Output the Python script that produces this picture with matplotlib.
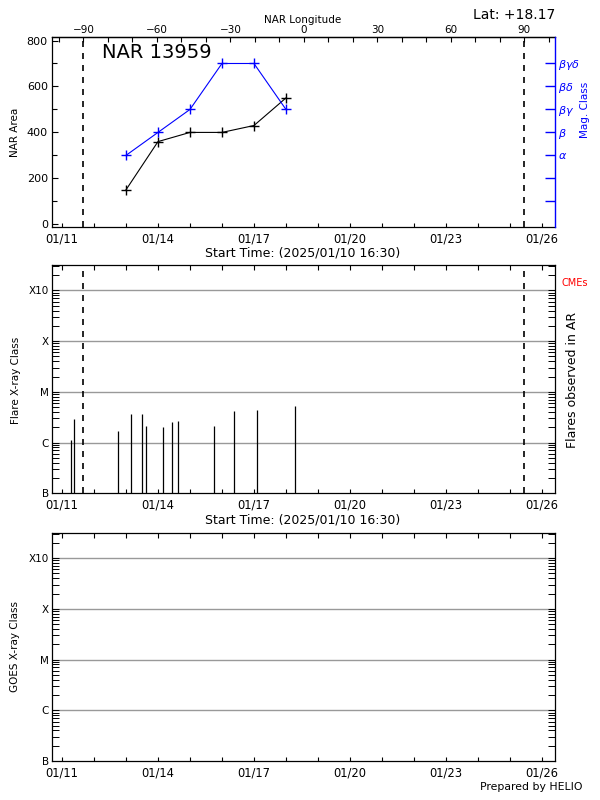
import matplotlib
matplotlib.use('Agg')
import matplotlib.pyplot as plt
import matplotlib.dates as mdates
from matplotlib.ticker import MultipleLocator, FixedLocator, LogLocator, NullFormatter
from datetime import datetime

T_START = datetime(2025, 1, 10, 16, 30)
T_END = datetime(2025, 1, 26, 9, 50)
LIMB_EAST = datetime(2025, 1, 11, 16, 0)   # longitude -90
LIMB_WEST = datetime(2025, 1, 25, 10, 50)  # longitude +90

# NAR area / magnetic class, one value per day
nar_days = ['2025-01-13', '2025-01-14', '2025-01-15', '2025-01-16', '2025-01-17', '2025-01-18']
nar_area = [150, 360, 400, 400, 430, 550]
nar_mag = ['a', 'b', 'bg', 'bgd', 'bgd', 'bg']

mag_keys = ['', '-', 'a', 'b', 'bg', 'bd', 'bgd']
mag_labels = ['', '', r'$\alpha$', r'$\beta$', r'$\beta\gamma$', r'$\beta\delta$', r'$\beta\gamma\delta$']

lon_ticks = [-90, -60, -30, 0, 30, 60, 90]

# flares observed in AR
flare_times = ['2025-01-11 06:30', '2025-01-11 08:40', '2025-01-12 17:50', '2025-01-13 03:30',
               '2025-01-13 11:50', '2025-01-13 14:50', '2025-01-14 03:30', '2025-01-14 10:20',
               '2025-01-14 14:50', '2025-01-15 17:45', '2025-01-16 08:55', '2025-01-17 02:00',
               '2025-01-18 06:45']
flare_class = ['C1.1', 'C2.9', 'C1.7', 'C3.6', 'C3.6', 'C2.1', 'C2.0', 'C2.6',
               'C2.7', 'C2.1', 'C4.1', 'C4.3', 'C5.2']

goes_levels = [1e-7, 1e-6, 1e-5, 1e-4, 1e-3]
goes_labels = ['B', 'C', 'M', 'X', 'X10']
CLASS_BASE = {'A': 1e-8, 'B': 1e-7, 'C': 1e-6, 'M': 1e-5, 'X': 1e-4}


def class_to_flux(s):
    return CLASS_BASE[s[0]] * float(s[1:])


def to_dt(s):
    fmt = '%Y-%m-%d %H:%M' if ' ' in s else '%Y-%m-%d'
    return datetime.strptime(s, fmt)


tE = mdates.date2num(LIMB_EAST)
tW = mdates.date2num(LIMB_WEST)
k = 180.0 / (tW - tE)


def t2lon(t):
    return -90 + (t - tE) * k


def lon2t(lon):
    return tE + (lon + 90) / k


plt.rcParams['font.family'] = 'DejaVu Sans'
fig = plt.figure(figsize=(6, 8), dpi=100)

W, H = 600.0, 800.0
L, R = 52 / W, 555 / W
PX = 0.72  # points per pixel at 100 dpi
DASH = (0, (3.6, 3.6))


def make_ax(top, bottom):
    return fig.add_axes([L, 1 - bottom / H, R - L, (bottom - top) / H])


def time_axis(ax, top=True):
    ax.set_xlim(T_START, T_END)
    ax.xaxis.set_major_locator(mdates.DayLocator(bymonthday=[11, 14, 17, 20, 23, 26]))
    ax.xaxis.set_minor_locator(mdates.DayLocator())
    ax.xaxis.set_major_formatter(mdates.DateFormatter('%m/%d'))
    ax.tick_params(axis='x', which='both', direction='in', length=4.5 * PX, width=0.8,
                   top=top, bottom=True, labelsize=8.3, pad=4)
    for sp in ax.spines.values():
        sp.set_linewidth(0.9)


def goes_axis(ax):
    ax.set_yscale('log')
    ax.set_ylim(1e-7, 10 ** -2.5)
    ax.yaxis.set_major_locator(FixedLocator(goes_levels))
    ax.set_yticklabels(goes_labels)
    ax.yaxis.set_minor_locator(LogLocator(base=10, subs=range(2, 10)))
    ax.yaxis.set_minor_formatter(NullFormatter())
    ax.tick_params(axis='y', which='both', direction='in', length=7 * PX, width=0.7,
                   left=True, right=True, labelsize=7.5, pad=2)
    for lv in goes_levels[1:]:
        ax.axhline(lv, color='#999999', lw=1.0, zorder=1)


# ---- panel 1: NAR area and magnetic class
ax1 = make_ax(37.3, 227.3)
time_axis(ax1, top=False)
ax1.set_ylim(-13, 814)
ax1.yaxis.set_major_locator(MultipleLocator(200))
ax1.yaxis.set_minor_locator(MultipleLocator(100))
ax1.tick_params(axis='y', which='major', direction='in', length=6 * PX, width=0.8,
                right=False, labelsize=8, pad=3)
ax1.tick_params(axis='y', which='minor', direction='in', length=4.5 * PX, width=0.8, right=False)
ax1.spines['right'].set_visible(False)

nar_t = [to_dt(d) for d in nar_days]
ax1.plot(nar_t, nar_area, color='k', lw=0.8, marker='+', ms=7, mew=1.0)
for d in [LIMB_EAST, LIMB_WEST]:
    ax1.axvline(d, color='k', lw=1.2, ls=DASH)
ax1.text(102 / W, 1 - 52 / H, 'NAR 13959', transform=fig.transFigure,
         fontsize=14, va='center', ha='left')

ax1r = ax1.twinx()
ax1r.set_ylim(-0.13, 8.14)
ax1r.set_yticks(range(1, len(mag_keys) + 1))
ax1r.set_yticklabels(mag_labels)
ax1r.tick_params(axis='y', direction='in', length=10 * PX, width=1.0, colors='blue',
                 labelsize=8, pad=2)
for name, sp in ax1r.spines.items():
    if name == 'right':
        sp.set_color('blue')
        sp.set_linewidth(1.0)
    else:
        sp.set_visible(False)
mag_y = [mag_keys.index(m) + 1 for m in nar_mag]
ax1r.plot(nar_t, mag_y, color='blue', lw=0.8, marker='+', ms=7, mew=1.0)

sec = ax1.secondary_xaxis('top', functions=(t2lon, lon2t))
sec.xaxis.set_major_locator(FixedLocator(lon_ticks))
sec.xaxis.set_minor_locator(MultipleLocator(10))
sec.tick_params(axis='x', which='both', direction='in', length=4.5 * PX, width=0.8,
                labelsize=7.5, pad=1.5)
sec.spines['top'].set_linewidth(0.9)

fig.text(303 / W, 1 - 20 / H, 'NAR Longitude', fontsize=7.5, ha='center', va='center')
fig.text(555 / W, 1 - 15 / H, 'Lat: +18.17', fontsize=10, ha='right', va='center')
fig.text(15 / W, 1 - 132 / H, 'NAR Area', fontsize=7.5, rotation=90, ha='center', va='center')
fig.text(585 / W, 1 - 110 / H, 'Mag. Class', fontsize=7.5, rotation=90, ha='center',
         va='center', color='blue')
fig.text(303 / W, 1 - 253 / H, 'Start Time: (2025/01/10 16:30)', fontsize=9,
         ha='center', va='center')

# ---- panel 2: flares observed in AR
ax2 = make_ax(265, 493.3)
time_axis(ax2)
goes_axis(ax2)
ft = [to_dt(s) for s in flare_times]
ff = [class_to_flux(c) for c in flare_class]
ax2.vlines(ft, 1e-7, ff, color='k', lw=0.9, zorder=3)
for d in [LIMB_EAST, LIMB_WEST]:
    ax2.axvline(d, color='k', lw=1.2, ls=DASH, zorder=3)

fig.text(16 / W, 1 - 380 / H, 'Flare X-ray Class', fontsize=7.5, rotation=90,
         ha='center', va='center')
fig.text(572 / W, 1 - 380 / H, 'Flares observed in AR', fontsize=9, rotation=90,
         ha='center', va='center')
fig.text(561 / W, 1 - 283 / H, 'CMEs', fontsize=7, color='red', ha='left', va='center')
fig.text(303 / W, 1 - 520 / H, 'Start Time: (2025/01/10 16:30)', fontsize=9,
         ha='center', va='center')

# ---- panel 3: GOES X-ray flux (no data)
ax3 = make_ax(532.7, 761)
time_axis(ax3)
goes_axis(ax3)
fig.text(15 / W, 1 - 647 / H, 'GOES X-ray Class', fontsize=7.5, rotation=90,
         ha='center', va='center')
fig.text(583 / W, 1 - 787 / H, 'Prepared by HELIO', fontsize=7.8, ha='right', va='center')

fig.savefig('out.png', dpi=100)
